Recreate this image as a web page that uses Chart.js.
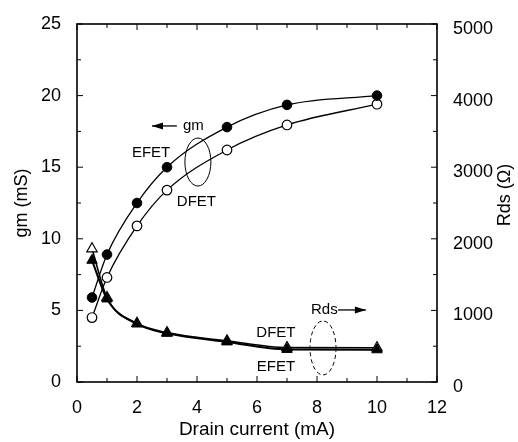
<!DOCTYPE html>
<html>
<head>
<meta charset="utf-8">
<script src="https://cdn.jsdelivr.net/npm/chart.js@4"></script>
<style>
html,body{margin:0;padding:0;background:#fff;}
#wrap{width:518px;height:442px;}
</style>
</head>
<body>
<div id="wrap"><canvas id="c" width="518" height="442"></canvas></div>
<script>
const drainCurrent = [0.5, 1, 2, 3, 5, 7, 10];
const gmEFET = [5.9, 8.9, 12.5, 15.0, 17.8, 19.35, 20.0];
const gmDFET = [4.5, 7.3, 10.9, 13.4, 16.2, 17.95, 19.4];
const rdsEFET = [1700, 1160, 810, 680, 560, 455, 450];
const rdsDFET = [1860, 1180, 820, 690, 575, 480, 478];
const xTicks = [0, 2, 4, 6, 8, 10, 12];
const gmTicks = [0, 5, 10, 15, 20, 25];
const rdsTicks = [0, 1000, 2000, 3000, 4000, 5000];

const FONT = '"Liberation Sans", Arial, Helvetica, sans-serif';
const pts = (ys) => drainCurrent.map((x, i) => ({x: x, y: ys[i]}));

const frame = {
  id: 'frame',
  beforeDatasetsDraw(chart) {
    const {ctx, chartArea: a, scales} = chart;
    ctx.save();
    ctx.strokeStyle = '#000';
    ctx.lineWidth = 1.6;
    ctx.strokeRect(a.left, a.top, a.right - a.left, a.bottom - a.top);
    ctx.lineWidth = 1;
    const xs = scales.x, y = scales.y, y2 = scales.y2;
    for (let v = 0; v <= 12; v += 1) {
      const p = xs.getPixelForValue(v);
      const L = (v % 2 === 0) ? 6 : 4;
      ctx.beginPath();
      ctx.moveTo(p, a.bottom); ctx.lineTo(p, a.bottom - L);
      ctx.moveTo(p, a.top); ctx.lineTo(p, a.top + L);
      ctx.stroke();
    }
    for (let v = 0; v <= 25; v += 2.5) {
      const p = y.getPixelForValue(v);
      const L = (v % 5 === 0) ? 6 : 4;
      ctx.beginPath(); ctx.moveTo(a.left, p); ctx.lineTo(a.left + L, p); ctx.stroke();
    }
    for (let v = 0; v <= 5000; v += 500) {
      const p = y2.getPixelForValue(v);
      const L = (v % 1000 === 0) ? 6 : 4;
      ctx.beginPath(); ctx.moveTo(a.right, p); ctx.lineTo(a.right - L, p); ctx.stroke();
    }
    ctx.restore();
  },
  afterDraw(chart) {
    const {ctx, scales} = chart;
    const X = v => scales.x.getPixelForValue(v);
    const Y = v => scales.y.getPixelForValue(v);
    ctx.save();
    ctx.fillStyle = '#000';
    ctx.strokeStyle = '#000';
    // right axis title
    ctx.save();
    ctx.font = '18px ' + FONT;
    ctx.translate(505, 195);
    ctx.rotate(-Math.PI / 2);
    ctx.textAlign = 'center';
    ctx.textBaseline = 'middle';
    ctx.fillText('Rds (\u03A9)', 0, 0);
    ctx.restore();

    ctx.font = '15px ' + FONT;
    ctx.textBaseline = 'middle';
    ctx.textAlign = 'center';
    ctx.fillText('EFET', X(2.47), Y(16.0));
    ctx.fillText('DFET', X(3.98), Y(12.57));
    ctx.fillText('DFET', X(6.63), Y(3.42));
    ctx.fillText('EFET', X(6.63), Y(1.05));
    ctx.textAlign = 'left';
    ctx.fillText('gm', X(3.53), Y(17.9));
    ctx.fillText('Rds', X(7.8), Y(5.03));

    function arrow(x0, x1, yy) {
      ctx.lineWidth = 1.3;
      ctx.beginPath(); ctx.moveTo(x0, yy); ctx.lineTo(x1, yy); ctx.stroke();
      const dir = Math.sign(x1 - x0);
      ctx.beginPath();
      ctx.moveTo(x1, yy);
      ctx.lineTo(x1 - dir * 11, yy - 3.5);
      ctx.lineTo(x1 - dir * 11, yy + 3.5);
      ctx.closePath(); ctx.fill();
    }
    arrow(X(3.33), X(2.5), Y(17.88));
    arrow(X(8.7), X(9.63), Y(5.03));

    ctx.lineWidth = 1;
    ctx.beginPath();
    ctx.ellipse(X(4.03), Y(15.36), 13, 24, 0, 0, Math.PI * 2);
    ctx.stroke();
    ctx.setLineDash([4, 3]);
    ctx.beginPath();
    ctx.ellipse(X(8.2), Y(2.38), 13, 27, 0, 0, Math.PI * 2);
    ctx.stroke();
    ctx.restore();
  }
};

const tickFont = {family: FONT, size: 18};
const plain = v => String(v);

new Chart(document.getElementById('c'), {
  type: 'scatter',
  data: {
    datasets: [
      {data: pts(rdsEFET), yAxisID: 'y2', showLine: true, borderColor: '#000', borderWidth: 2,
       pointStyle: 'triangle', pointRadius: 6, pointBackgroundColor: '#000', pointBorderColor: '#000',
       pointBorderWidth: 1, cubicInterpolationMode: 'monotone'},
      {data: pts(rdsDFET), yAxisID: 'y2', showLine: true, borderColor: '#000', borderWidth: 1.6,
       pointStyle: 'triangle', pointRadius: 6, pointBackgroundColor: '#fff', pointBorderColor: '#000',
       pointBorderWidth: 1.2, cubicInterpolationMode: 'monotone'},
      {data: pts(gmEFET), yAxisID: 'y', showLine: true, borderColor: '#000', borderWidth: 1.3,
       pointStyle: 'circle', pointRadius: 4.8, pointBackgroundColor: '#000', pointBorderColor: '#000',
       pointBorderWidth: 1, cubicInterpolationMode: 'monotone'},
      {data: pts(gmDFET), yAxisID: 'y', showLine: true, borderColor: '#000', borderWidth: 1.3,
       pointStyle: 'circle', pointRadius: 4.8, pointBackgroundColor: '#fff', pointBorderColor: '#000',
       pointBorderWidth: 1.2, cubicInterpolationMode: 'monotone'}
    ]
  },
  options: {
    responsive: false,
    animation: false,
    events: [],
    layout: {padding: {top: 24, left: 0, right: 0, bottom: 0}},
    plugins: {legend: {display: false}, tooltip: {enabled: false}},
    scales: {
      x: {
        type: 'linear', min: 0, max: 12,
        afterBuildTicks: s => { s.ticks = xTicks.map(v => ({value: v})); },
        ticks: {font: tickFont, color: '#000', padding: 7, maxRotation: 0, autoSkip: false, callback: plain},
        grid: {display: false}, border: {display: false},
        title: {display: true, text: 'Drain current (mA)', color: '#000',
                font: {family: FONT, size: 19}, padding: {top: 0, bottom: 1}},
        afterFit: s => { s.height = 60; }
      },
      y: {
        type: 'linear', position: 'left', min: 0, max: 25,
        afterBuildTicks: s => { s.ticks = gmTicks.map(v => ({value: v})); },
        ticks: {font: tickFont, color: '#000', padding: 8, callback: plain},
        grid: {display: false}, border: {display: false},
        title: {display: true, text: 'gm (mS)', color: '#000',
                font: {family: FONT, size: 18}, padding: {top: 11, bottom: 0}},
        afterFit: s => { s.width = 77; }
      },
      y2: {
        type: 'linear', position: 'right', min: 0, max: 5000,
        afterBuildTicks: s => { s.ticks = rdsTicks.map(v => ({value: v})); },
        ticks: {font: tickFont, color: '#000', padding: 8, labelOffset: 5, callback: plain},
        grid: {display: false}, border: {display: false},
        afterFit: s => { s.width = 81; }
      }
    }
  },
  plugins: [frame]
});
</script>
</body>
</html>
